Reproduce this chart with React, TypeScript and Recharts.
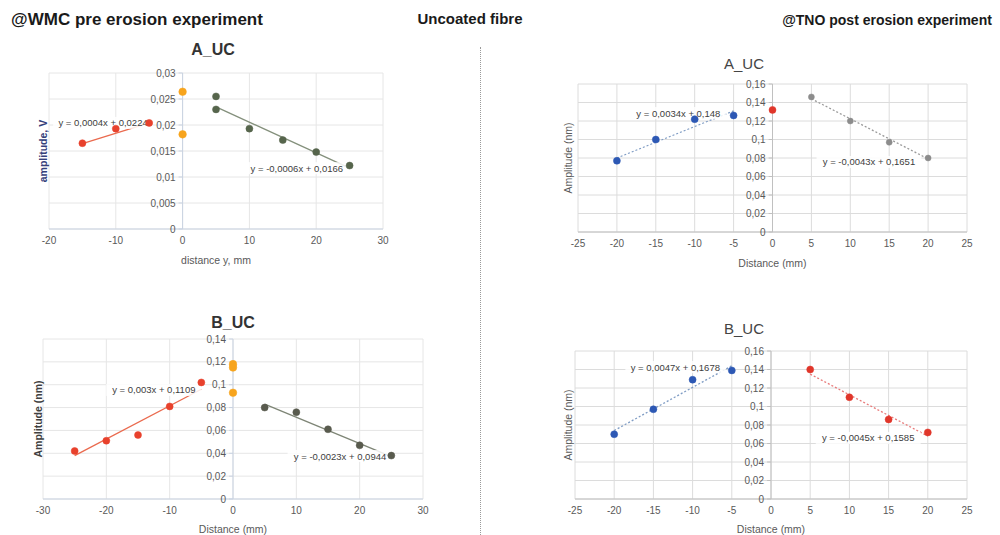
import React from 'react';
import { ScatterChart, Scatter, XAxis, YAxis, CartesianGrid, ReferenceLine, ReferenceDot } from 'recharts';

// ---- @WMC pre erosion, A_UC ----
const wmcAxTicks = [-20, -10, 0, 10, 20, 30];
const wmcAyTicks = [0, 0.005, 0.01, 0.015, 0.02, 0.025, 0.03];
const wmcAleft = [{ x: -15, y: 0.0165 }, { x: -10, y: 0.0193 }, { x: -5, y: 0.0204 }];
const wmcAcentre = [{ x: 0, y: 0.0264 }, { x: 0, y: 0.0182 }];
const wmcAright = [
  { x: 5, y: 0.0255 }, { x: 5, y: 0.023 }, { x: 10, y: 0.0193 },
  { x: 15, y: 0.0171 }, { x: 20, y: 0.0148 }, { x: 25, y: 0.0122 },
];
const wmcAleftTrend = [{ x: -15, y: 0.0164 }, { x: -5, y: 0.0204 }];
const wmcArightTrend = [{ x: 5, y: 0.0235 }, { x: 25, y: 0.0117 }];
const wmcAeqs = [
  { x: -11.9, y: 0.0204, text: 'y = 0,0004x + 0,0224' },
  { x: 17.1, y: 0.0117, text: 'y = -0,0006x + 0,0166' },
];

// ---- @WMC pre erosion, B_UC ----
const wmcBxTicks = [-30, -20, -10, 0, 10, 20, 30];
const wmcByTicks = [0, 0.02, 0.04, 0.06, 0.08, 0.1, 0.12, 0.14];
const wmcBleft = [
  { x: -25, y: 0.042 }, { x: -20, y: 0.051 }, { x: -15, y: 0.056 },
  { x: -10, y: 0.081 }, { x: -5, y: 0.102 },
];
const wmcBcentre = [{ x: 0, y: 0.118 }, { x: 0, y: 0.115 }, { x: 0, y: 0.093 }];
const wmcBright = [
  { x: 5, y: 0.08 }, { x: 10, y: 0.076 }, { x: 15, y: 0.061 },
  { x: 20, y: 0.047 }, { x: 25, y: 0.038 },
];
const wmcBleftTrend = [{ x: -25, y: 0.038 }, { x: -5, y: 0.096 }];
const wmcBrightTrend = [{ x: 5, y: 0.083 }, { x: 25, y: 0.037 }];
const wmcBeqs = [
  { x: -12.5, y: 0.0954, text: 'y = 0,003x + 0,1109' },
  { x: 16.9, y: 0.0376, text: 'y = -0,0023x + 0,0944' },
];

// ---- @TNO post erosion, A_UC ----
const tnoxTicks = [-25, -20, -15, -10, -5, 0, 5, 10, 15, 20, 25];
const tnoyTicks = [0, 0.02, 0.04, 0.06, 0.08, 0.1, 0.12, 0.14, 0.16];
const tnoAleft = [{ x: -20, y: 0.077 }, { x: -15, y: 0.1 }, { x: -10, y: 0.122 }, { x: -5, y: 0.126 }];
const tnoAcentre = [{ x: 0, y: 0.132 }];
const tnoAright = [{ x: 5, y: 0.146 }, { x: 10, y: 0.12 }, { x: 15, y: 0.097 }, { x: 20, y: 0.08 }];
const tnoAleftTrend = [{ x: -20, y: 0.08 }, { x: -5, y: 0.131 }];
const tnoArightTrend = [{ x: 5, y: 0.144 }, { x: 20, y: 0.079 }];
const tnoAeqs = [
  { x: -12.1, y: 0.1286, text: 'y = 0,0034x + 0,148' },
  { x: 12.4, y: 0.0757, text: 'y = -0,0043x + 0,1651' },
];

// ---- @TNO post erosion, B_UC ----
const tnoBleft = [{ x: -20, y: 0.07 }, { x: -15, y: 0.097 }, { x: -10, y: 0.129 }, { x: -5, y: 0.139 }];
const tnoBright = [{ x: 5, y: 0.14 }, { x: 10, y: 0.11 }, { x: 15, y: 0.086 }, { x: 20, y: 0.072 }];
const tnoBleftTrend = [{ x: -20, y: 0.074 }, { x: -5, y: 0.144 }];
const tnoBrightTrend = [{ x: 5, y: 0.135 }, { x: 20, y: 0.068 }];
const tnoBeqs = [
  { x: -12.2, y: 0.1427, text: 'y = 0,0047x + 0,1678' },
  { x: 12.4, y: 0.066, text: 'y = -0,0045x + 0,1585' },
];

const FONT = "'Liberation Sans', Arial, sans-serif";
const fmt = (v: number) => String(v).replace('.', ',');

const dot = (color: string, r: number) => (p: any) =>
  <circle cx={p.cx} cy={p.cy} r={r} fill={color} stroke={color} strokeWidth={0.5} />;

// trendline equation with a white box behind it, like Excel's label
const EqLabel = (text: string) => (props: any) => {
  const { viewBox } = props;
  const cx = viewBox.x + (viewBox.width || 0) / 2;
  const cy = viewBox.y + (viewBox.height || 0) / 2;
  const w = text.length * 4.9;
  return (
    <g>
      <rect x={cx - w / 2 - 1} y={cy - 6} width={w + 2} height={12} fill="#fff" fillOpacity={0.85} />
      <text x={cx} y={cy} textAnchor="middle" dominantBaseline="central" fontSize={9.5} fill="#404040">{text}</text>
    </g>
  );
};

type Pt = { x: number; y: number };

interface PanelProps {
  left: number; top: number; width: number; height: number;
  margin: { top: number; right: number; bottom: number; left: number };
  xDomain: [number, number]; yMax: number;
  xTicks: number[]; yTicks: number[];
  points: { data: Pt[]; color: string; r: number }[];
  trends: { data: Pt[]; color: string; dash?: string }[];
  eqs: { x: number; y: number; text: string }[];
  xLabel: string; yLabel: string; yLabelColor: string; yLabelBold?: boolean;
  yLabelOffset: number; xAxisHeight: number;
  gridColor: string; axisColor: string; tickLen: number;
}

const Panel = (p: PanelProps) => (
  <div style={{ position: 'absolute', left: p.left, top: p.top }}>
    <ScatterChart width={p.width} height={p.height} margin={p.margin} style={{ fontFamily: FONT }}>
      <CartesianGrid stroke={p.gridColor} strokeWidth={1} horizontal={false} />
      <XAxis
        type="number" dataKey="x" domain={p.xDomain} ticks={p.xTicks} interval={0}
        tickFormatter={fmt} tick={{ fontSize: 10, fill: '#595959' }} tickLine={false}
        axisLine={{ stroke: p.axisColor }} height={p.xAxisHeight}
        label={{ value: p.xLabel, position: 'insideBottom', offset: 0, fontSize: 10.5, fill: '#595959' }}
      />
      <YAxis
        type="number" dataKey="y" domain={[0, p.yMax]} ticks={p.yTicks} width={1}
        tick={false} tickLine={false} axisLine={false}
        label={{
          value: p.yLabel, angle: -90, position: 'insideLeft', offset: p.yLabelOffset,
          style: { textAnchor: 'middle' }, fontSize: 10.5, fill: p.yLabelColor,
          fontWeight: p.yLabelBold ? 'bold' : 'normal',
        }}
      />
      {p.yTicks.map((v) => (
        <ReferenceLine key={'g' + v} y={v} stroke={p.gridColor} />
      ))}
      <ReferenceLine x={0} stroke={p.axisColor} />
      {p.yTicks.map((v) => (
        <ReferenceLine key={'t' + v} segment={[{ x: -p.tickLen, y: v }, { x: 0, y: v }]} stroke={p.axisColor} />
      ))}
      {p.yTicks.map((v) => (
        <ReferenceDot
          key={'l' + v} x={0} y={v} r={0} fill="none" stroke="none"
          label={{ value: fmt(v), position: 'left', offset: 7, fontSize: 10, fill: '#595959' }}
        />
      ))}
      {p.trends.map((t, i) => (
        <Scatter
          key={'tr' + i} data={t.data} isAnimationActive={false}
          line={{ stroke: t.color, strokeWidth: 1.3, strokeDasharray: t.dash }}
          shape={() => <g />}
        />
      ))}
      {p.eqs.map((e, i) => (
        <ReferenceDot
          key={'e' + i} x={e.x} y={e.y} r={0} fill="none" stroke="none"
          label={{ content: EqLabel(e.text) }}
        />
      ))}
      {p.points.map((s, i) => (
        <Scatter key={'s' + i} data={s.data} isAnimationActive={false} shape={dot(s.color, s.r)} />
      ))}
    </ScatterChart>
  </div>
);

const textAt = (x: number, y: number, text: string, style: React.CSSProperties) => (
  <div style={{
    position: 'absolute', left: x, top: y, transform: 'translate(-50%, -50%)',
    whiteSpace: 'nowrap', fontFamily: FONT, ...style,
  }}>{text}</div>
);

export default function App() {
  return (
    <div style={{ position: 'absolute', left: 0, top: 0, width: 1000, height: 535, background: '#fff', overflow: 'hidden' }}>
      {textAt(137, 20, '@WMC pre erosion experiment', { fontSize: 17, fontWeight: 'bold', color: '#1a1a1a' })}
      {textAt(470, 18, 'Uncoated fibre', { fontSize: 15, fontWeight: 'bold', color: '#1a1a1a' })}
      {textAt(887, 20, '@TNO post erosion experiment', { fontSize: 14, fontWeight: 'bold', color: '#1a1a1a' })}
      <div style={{ position: 'absolute', left: 480, top: 47, height: 488, borderLeft: '1px dotted #9a9a9a' }} />

      {textAt(213, 50, 'A_UC', { fontSize: 16, fontWeight: 'bold', color: '#333' })}
      <Panel
        left={0} top={30} width={420} height={250}
        margin={{ top: 43, right: 37, bottom: 16, left: 48 }}
        xDomain={[-20, 30]} yMax={0.03} xTicks={wmcAxTicks} yTicks={wmcAyTicks}
        points={[
          { data: wmcAleft, color: '#e8412c', r: 3.5 },
          { data: wmcAcentre, color: '#f7a41d', r: 3.8 },
          { data: wmcAright, color: '#56654c', r: 3.5 },
        ]}
        trends={[
          { data: wmcAleftTrend, color: '#ea6a4e' },
          { data: wmcArightTrend, color: '#84907c' },
        ]}
        eqs={wmcAeqs} xLabel="distance y, mm" yLabel="amplitude, V" yLabelColor="#34407a" yLabelBold
        yLabelOffset={-5} xAxisHeight={35} gridColor="#e6e6e6" axisColor="#c9d3e2" tickLen={0.6}
      />

      {textAt(233, 323, 'B_UC', { fontSize: 16, fontWeight: 'bold', color: '#333' })}
      <Panel
        left={0} top={300} width={440} height={235}
        margin={{ top: 39, right: 17, bottom: 2, left: 42 }}
        xDomain={[-30, 30]} yMax={0.14} xTicks={wmcBxTicks} yTicks={wmcByTicks}
        points={[
          { data: wmcBleft, color: '#e8412c', r: 3.5 },
          { data: wmcBcentre, color: '#f7a41d', r: 3.8 },
          { data: wmcBright, color: '#595b4e', r: 3.5 },
        ]}
        trends={[
          { data: wmcBleftTrend, color: '#ea6a4e' },
          { data: wmcBrightTrend, color: '#7e8576' },
        ]}
        eqs={wmcBeqs} xLabel="Distance (mm)" yLabel="Amplitude (nm)" yLabelColor="#404040" yLabelBold
        yLabelOffset={-4} xAxisHeight={34} gridColor="#e6e6e6" axisColor="#c9d3e2" tickLen={0.6}
      />

      {textAt(744, 63, 'A_UC', { fontSize: 15, color: '#444' })}
      <Panel
        left={540} top={40} width={460} height={240}
        margin={{ top: 44, right: 33, bottom: 13, left: 37 }}
        xDomain={[-25, 25]} yMax={0.16} xTicks={tnoxTicks} yTicks={tnoyTicks}
        points={[
          { data: tnoAleft, color: '#2d58b4', r: 3.5 },
          { data: tnoAcentre, color: '#e0362a', r: 3.5 },
          { data: tnoAright, color: '#8c8c8c', r: 3 },
        ]}
        trends={[
          { data: tnoAleftTrend, color: '#7f9cc4', dash: '2 2' },
          { data: tnoArightTrend, color: '#9a9a9a', dash: '2 2' },
        ]}
        eqs={tnoAeqs} xLabel="Distance (mm)" yLabel="Amplitude (nm)" yLabelColor="#595959"
        yLabelOffset={-9} xAxisHeight={35} gridColor="#dcdcdc" axisColor="#c0c0c0" tickLen={0.5}
      />

      {textAt(744, 328, 'B_UC', { fontSize: 15, color: '#444' })}
      <Panel
        left={540} top={310} width={460} height={225}
        margin={{ top: 41, right: 33, bottom: 2, left: 34 }}
        xDomain={[-25, 25]} yMax={0.16} xTicks={tnoxTicks} yTicks={tnoyTicks}
        points={[
          { data: tnoBleft, color: '#2d58b4', r: 3.5 },
          { data: tnoBright, color: '#e0362a', r: 3.5 },
        ]}
        trends={[
          { data: tnoBleftTrend, color: '#7f9cc4', dash: '2 2' },
          { data: tnoBrightTrend, color: '#e87a7a', dash: '2 2' },
        ]}
        eqs={tnoBeqs} xLabel="Distance (mm)" yLabel="Amplitude (nm)" yLabelColor="#595959"
        yLabelOffset={-6} xAxisHeight={34} gridColor="#dcdcdc" axisColor="#c0c0c0" tickLen={0.5}
      />
    </div>
  );
}
